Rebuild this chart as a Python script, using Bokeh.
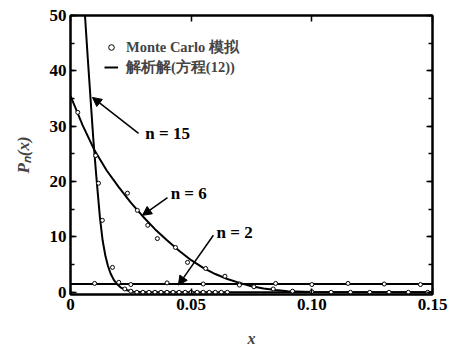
from bokeh.plotting import figure
from bokeh.models import (LinearAxis, FixedTicker, Range1d, Legend,
                          LegendItem, Label, Arrow, NormalHead)
from bokeh.embed import file_html
from bokeh.resources import INLINE

# ---- data ----
x_ticks = [0, 0.05, 0.10, 0.15]
x_tick_labels = {0: "0", 0.05: "0.05", 0.1: "0.10", 0.15: "0.15"}
y_ticks = [0, 10, 20, 30, 40, 50]
y_minor_ticks = [0, 5, 10, 15, 20, 25, 30, 35, 40, 45, 50]

# analytic curves
n2_x = [0.0, 0.15]
n2_y = [1.5, 1.5]

n6_x = [0.0, 0.005, 0.01, 0.015, 0.02, 0.025, 0.03, 0.035, 0.04, 0.045, 0.05, 0.055,
        0.06, 0.065, 0.07, 0.075, 0.08, 0.085, 0.09, 0.10, 0.15]
n6_y = [35.5, 30.2, 25.6, 22.0, 19.0, 16.2, 13.7, 11.4, 9.4, 7.5, 5.8, 4.4,
        3.3, 2.4, 1.7, 1.1, 0.7, 0.4, 0.2, 0.05, 0.0]

n15_x = [0.0045, 0.006, 0.0072, 0.0083, 0.0095, 0.0105, 0.0112, 0.0122, 0.0133, 0.0145,
         0.0155, 0.0166, 0.018, 0.0195, 0.0207, 0.023, 0.026, 0.03, 0.15]
n15_y = [62.0, 50.0, 42.0, 35.0, 27.4, 22.0, 18.4, 13.5, 9.4, 6.5,
         4.8, 3.4, 2.2, 1.4, 0.9, 0.4, 0.1, 0.0, 0.0]

# Monte Carlo samples
mc_x = [0.0104, 0.0116, 0.0132, 0.0174, 0.0200, 0.0225, 0.0250, 0.0275, 0.0300, 0.0325,
        0.0350, 0.0375, 0.0400, 0.0425, 0.0450, 0.0475, 0.0500, 0.0525, 0.0550, 0.0575,
        0.0600, 0.0625, 0.0650,
        0.0030, 0.0236, 0.0277, 0.0320, 0.0360, 0.0435, 0.0485, 0.0560, 0.0640, 0.0700,
        0.0760, 0.0840, 0.0920, 0.1000, 0.1080, 0.1160, 0.1240, 0.1320, 0.1400, 0.1480,
        0.0100, 0.0250, 0.0400, 0.0550, 0.0700, 0.0850, 0.1000, 0.1150, 0.1300, 0.1450]
mc_y = [24.7, 19.7, 13.0, 4.5, 1.8, 0.6, 0.2, 0.0, 0.0, 0.0,
        0.0, 0.0, 0.0, 0.0, 0.0, 0.0, 0.0, 0.0, 0.0, 0.0,
        0.0, 0.0, 0.0,
        32.5, 17.9, 14.8, 12.1, 9.7, 8.1, 5.4, 4.3, 2.9, 1.5,
        1.0, 0.6, 0.2, 0.1, 0.0, 0.0, 0.0, 0.0, 0.0, 0.0,
        1.6, 1.4, 1.7, 1.5, 1.3, 1.6, 1.4, 1.6, 1.5, 1.4]

SERIF = "Liberation Serif"

p = figure(width=460, height=353, x_range=Range1d(0, 0.15), y_range=Range1d(-0.4, 50),
           output_backend="svg", toolbar_location=None,
           min_border_left=70, min_border_right=28, min_border_top=15, min_border_bottom=59,
           x_axis_type=None, y_axis_type=None)
p.xgrid.visible = False
p.ygrid.visible = False
p.outline_line_color = "black"
p.outline_line_width = 2
p.background_fill_color = "white"
p.border_fill_color = "white"


def style_axis(ax, labels=True):
    ax.axis_line_color = "black"
    ax.axis_line_width = 2
    ax.major_tick_in = 6
    ax.major_tick_out = 0
    ax.minor_tick_in = 4
    ax.minor_tick_out = 0
    ax.major_tick_line_width = 1.5
    ax.minor_tick_line_width = 1.5
    ax.major_label_text_font = SERIF
    ax.major_label_text_font_style = "bold"
    ax.major_label_text_font_size = "17px"
    ax.major_label_text_color = "black"
    ax.major_label_standoff = 4 if labels else 0


xb = LinearAxis(ticker=FixedTicker(ticks=x_ticks), axis_label="x",
                major_label_overrides=x_tick_labels)
style_axis(xb)
xb.axis_label_text_font = SERIF
xb.axis_label_text_font_style = "bold italic"
xb.axis_label_text_font_size = "16px"
xb.axis_label_standoff = 17
p.add_layout(xb, "below")

xt = LinearAxis(ticker=FixedTicker(ticks=x_ticks),
                major_label_overrides={t: "" for t in x_ticks})
style_axis(xt, labels=False)
p.add_layout(xt, "above")

yl = LinearAxis(ticker=FixedTicker(ticks=y_ticks, minor_ticks=y_minor_ticks),
                axis_label="Pₙ(x)")
style_axis(yl)
yl.axis_label_text_font = SERIF
yl.axis_label_text_font_style = "bold italic"
yl.axis_label_text_font_size = "17px"
yl.axis_label_standoff = 14
p.add_layout(yl, "left")

yr = LinearAxis(ticker=FixedTicker(ticks=y_ticks, minor_ticks=y_minor_ticks),
                major_label_overrides={t: "" for t in y_ticks})
style_axis(yr, labels=False)
p.add_layout(yr, "right")

# curves
l2 = p.line(n2_x, n2_y, line_color="black", line_width=2)
l6 = p.line(n6_x, n6_y, line_color="black", line_width=2)
l15 = p.line(n15_x, n15_y, line_color="black", line_width=2)
mc = p.scatter(mc_x, mc_y, marker="circle", size=4, fill_color="white",
               line_color="black", line_width=1)

legend = Legend(items=[LegendItem(label="Monte Carlo 模拟", renderers=[mc]),
                       LegendItem(label="解析解(方程(12))", renderers=[l6])],
                location=(34, 217), background_fill_alpha=0, border_line_alpha=0,
                padding=0, spacing=0, margin=0, glyph_width=14, glyph_height=20,
                label_height=20, label_standoff=8, label_text_font=SERIF,
                label_text_font_style="bold", label_text_font_size="14.5px")
p.add_layout(legend)

# annotations
ann = [("n = 15", 0.0310, 28.7, 0.0282, 28.7, 0.0091, 35.2),
       ("n = 6", 0.0415, 17.9, 0.0402, 17.1, 0.0298, 13.9),
       ("n = 2", 0.0605, 10.8, 0.0592, 10.3, 0.0447, 1.3)]
for txt, tx, ty, xs, ys, xe, ye in ann:
    p.add_layout(Arrow(end=NormalHead(size=9, fill_color="black", line_color="black"),
                       x_start=xs, y_start=ys, x_end=xe, y_end=ye,
                       line_color="black", line_width=1.5))
    p.add_layout(Label(x=tx, y=ty, text=txt, text_font=SERIF, text_font_size="17px",
                       text_font_style="bold", text_baseline="middle", text_color="black"))

open("out.html", "w").write(file_html(p, INLINE))
